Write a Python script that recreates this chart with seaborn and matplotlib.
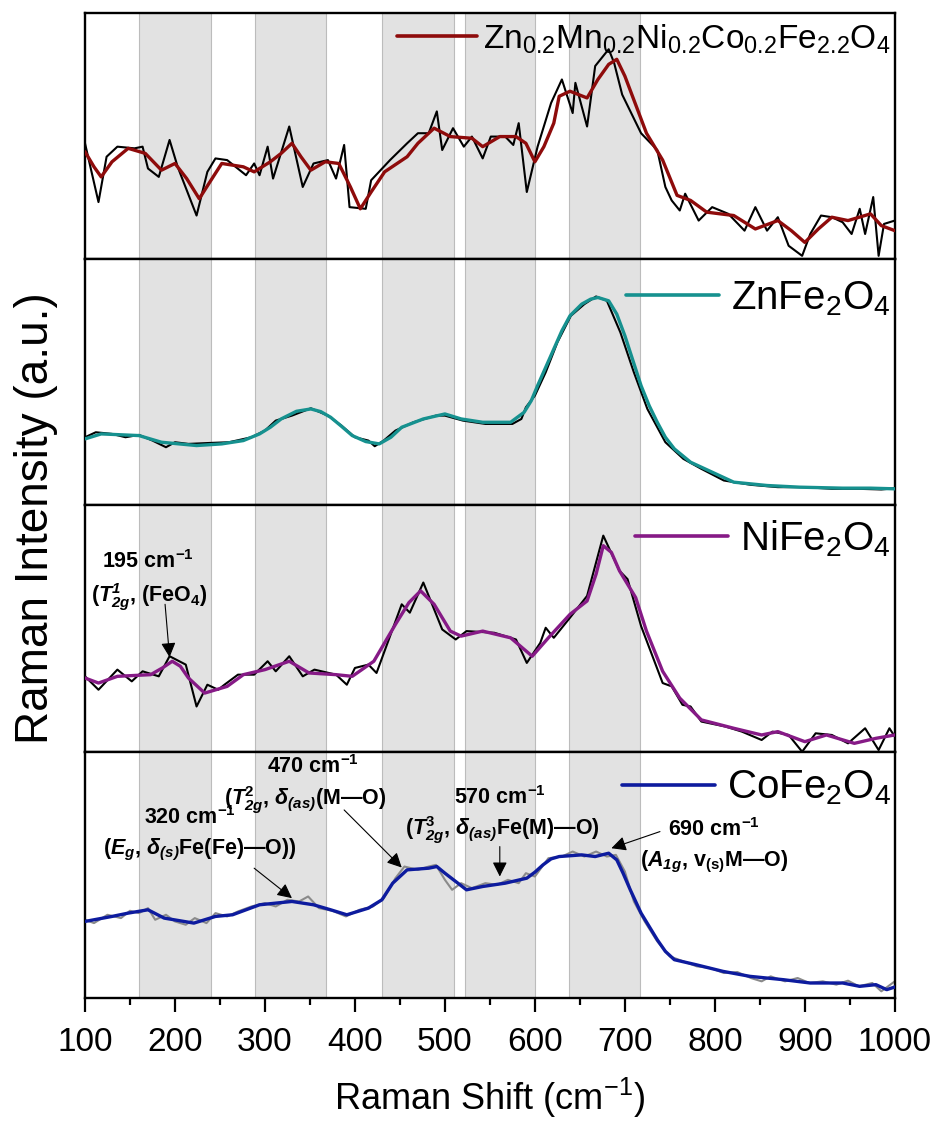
import matplotlib
matplotlib.use("Agg")
import matplotlib.pyplot as plt
import seaborn as sns
from matplotlib.lines import Line2D

# ---------------- data ----------------
# Shaded Raman-mode regions (cm^-1)
bands = [(160, 240), (289, 368), (430, 510), (522, 600), (638, 717)]

# Zn0.2Mn0.2Ni0.2Co0.2Fe2.2O4
mix_raw_x = [100, 115, 124, 136, 155, 164, 170, 182, 194, 203, 224, 236, 245, 258, 279, 288, 294, 303,
             309, 327, 342, 354, 370, 379, 388, 394, 412, 418, 439, 458, 470, 482, 491, 497, 509, 521,
             530, 542, 551, 567, 576, 582, 591, 603, 618, 630, 642, 645, 658, 667, 682, 688, 697, 718,
             736, 745, 752, 761, 767, 782, 797, 815, 833, 845, 858, 870, 882, 897, 906, 918, 930, 942,
             952, 961, 967, 976, 982, 988, 1000]
mix_raw_y = [345, 170, 305, 335, 330, 335, 270, 245, 355, 275, 130, 260, 300, 295, 250, 285, 250, 335,
             240, 395, 215, 285, 295, 240, 340, 155, 150, 235, 295, 345, 375, 375, 440, 325, 390, 335,
             365, 300, 365, 365, 340, 405, 200, 335, 465, 535, 435, 525, 395, 575, 625, 585, 490, 375,
             325, 215, 175, 145, 195, 115, 155, 135, 85, 155, 85, 125, 40, 10, 75, 130, 125, 110,
             75, 150, 75, 185, 10, 105, 115]
mix_fit_x = [100, 110, 118, 130, 148, 167, 185, 200, 213, 227, 240, 252, 276, 288, 306, 318, 330, 340,
             351, 367, 382, 395, 406, 418, 433, 458, 470, 488, 506, 530, 542, 561, 579, 590, 600, 610,
             621, 627, 639, 658, 670, 682, 691, 700, 712, 724, 742, 758, 773, 791, 821, 845, 870, 885,
             900, 915, 930, 948, 973, 985, 1000]
mix_fit_y = [320, 275, 245, 290, 330, 315, 265, 285, 240, 180, 235, 285, 275, 260, 290, 315, 345, 305,
             265, 290, 285, 215, 150, 200, 260, 305, 345, 390, 365, 360, 335, 365, 365, 345, 290, 335,
             405, 485, 500, 480, 535, 580, 595, 545, 460, 375, 295, 190, 175, 140, 130, 90, 115, 85,
             50, 90, 125, 115, 135, 100, 85]

# ZnFe2O4
zn_raw_x = [100, 112, 130, 145, 160, 175, 190, 200, 215, 240, 260, 285, 300, 312, 330, 351, 370, 385,
            400, 415, 422, 432, 445, 465, 490, 500, 520, 545, 575, 585, 590, 600, 612, 625, 640, 655,
            668, 680, 695, 710, 725, 745, 765, 785, 810, 840, 870, 900, 930, 960, 985, 1000]
zn_raw_y = [205, 220, 215, 205, 212, 195, 175, 190, 185, 188, 190, 205, 225, 255, 270, 292, 270, 240,
            205, 195, 178, 195, 225, 250, 270, 270, 255, 245, 245, 260, 295, 330, 400, 490, 570, 605,
            628, 615, 520, 400, 290, 190, 140, 110, 75, 62, 55, 55, 50, 50, 48, 52]
zn_fit_x = [100, 118, 160, 185, 224, 252, 276, 294, 306, 318, 335, 351, 362, 373, 385, 397, 412, 427,
            440, 452, 476, 500, 518, 542, 573, 588, 596, 603, 612, 621, 630, 639, 652, 662, 670, 682,
            691, 700, 709, 718, 727, 736, 745, 755, 773, 797, 821, 858, 894, 942, 973, 1000]
zn_fit_y = [200, 215, 210, 190, 180, 185, 195, 215, 235, 260, 283, 290, 282, 265, 238, 210, 192, 185,
            205, 235, 260, 275, 260, 250, 250, 280, 315, 360, 415, 470, 525, 570, 605, 620, 625, 615,
            575, 510, 435, 360, 300, 250, 205, 170, 130, 100, 70, 60, 55, 52, 52, 50]

# NiFe2O4
ni_raw_x = [100, 115, 136, 152, 164, 182, 194, 212, 224, 236, 248, 255, 270, 288, 303, 312, 327, 342,
            355, 379, 391, 400, 415, 424, 452, 461, 476, 497, 512, 524, 555, 579, 591, 606, 612, 621,
            639, 658, 676, 694, 703, 718, 742, 752, 764, 773, 785, 812, 830, 852, 864, 882, 897, 912,
            930, 948, 967, 982, 994, 1000]
ni_raw_y = [225, 185, 245, 210, 240, 225, 285, 260, 135, 200, 185, 200, 230, 230, 270, 240, 285, 225,
            245, 230, 200, 250, 260, 235, 440, 415, 505, 365, 335, 360, 355, 335, 265, 325, 370, 340,
            400, 465, 645, 540, 515, 375, 205, 195, 140, 135, 90, 75, 60, 35, 60, 50, 0, 55,
            50, 25, 70, 5, 70, 45]
ni_fit_x = [100, 115, 136, 173, 186, 197, 206, 215, 233, 258, 276, 300, 327, 349, 379, 397, 421, 433,
            445, 460, 473, 488, 506, 518, 542, 573, 597, 615, 639, 658, 668, 676, 685, 694, 712, 724,
            742, 761, 785, 821, 852, 870, 900, 924, 955, 979, 1000]
ni_fit_y = [220, 205, 225, 230, 250, 270, 255, 220, 175, 195, 230, 245, 270, 235, 230, 225, 270, 325,
            380, 445, 480, 440, 360, 345, 360, 340, 285, 340, 410, 450, 530, 615, 595, 540, 460, 360,
            240, 160, 95, 70, 50, 60, 30, 50, 25, 40, 50]

# CoFe2O4
co_raw_x = [100, 110, 125, 140, 150, 160, 170, 178, 190, 200, 212, 222, 235, 245, 258, 270, 285, 300,
            312, 325, 338, 348, 360, 375, 390, 405, 420, 432, 445, 455, 470, 482, 490, 500, 508, 518,
            530, 545, 558, 570, 582, 590, 600, 615, 630, 642, 655, 668, 680, 690, 700, 710, 722, 736,
            750, 765, 780, 795, 810, 825, 840, 852, 862, 878, 892, 905, 920, 935, 948, 960, 975, 985,
            995, 1000]
co_raw_y = [235, 225, 250, 240, 262, 255, 270, 235, 250, 230, 220, 240, 225, 255, 245, 260, 275, 285,
            275, 295, 290, 305, 270, 262, 245, 265, 275, 300, 360, 395, 385, 395, 400, 355, 325, 345,
            330, 345, 340, 355, 345, 375, 365, 420, 425, 440, 425, 440, 425, 430, 380, 290, 230, 170,
            125, 110, 95, 90, 75, 78, 60, 50, 65, 50, 60, 45, 50, 40, 52, 35, 45, 20,
            40, 50]
co_fit_x = [100, 130, 148, 170, 188, 221, 245, 264, 294, 330, 354, 373, 391, 415, 430, 442, 458, 482,
            491, 500, 512, 524, 542, 567, 591, 600, 609, 618, 627, 652, 667, 682, 691, 698, 706, 718,
            727, 736, 745, 755, 779, 809, 839, 876, 906, 942, 961, 979, 991, 1000]
co_fit_y = [230, 245, 255, 265, 240, 225, 245, 250, 280, 290, 280, 265, 250, 270, 295, 345, 385, 390,
            395, 375, 350, 325, 335, 345, 360, 378, 400, 418, 425, 430, 425, 435, 415, 375, 325, 255,
            215, 175, 140, 115, 100, 80, 65, 55, 45, 45, 35, 40, 25, 33]

labels = [r"Zn$_{0.2}$Mn$_{0.2}$Ni$_{0.2}$Co$_{0.2}$Fe$_{2.2}$O$_{4}$",
          r"ZnFe$_{2}$O$_{4}$", r"NiFe$_{2}$O$_{4}$", r"CoFe$_{2}$O$_{4}$"]
xticks = [100, 200, 300, 400, 500, 600, 700, 800, 900, 1000]

# ---------------- style ----------------
sns.set_theme(style="white")
FAM = "Liberation Sans"
plt.rcParams["font.family"] = [FAM, "DejaVu Sans"]
plt.rcParams["text.color"] = "black"
plt.rcParams["axes.labelcolor"] = "black"
plt.rcParams["xtick.color"] = "black"
plt.rcParams["mathtext.fontset"] = "custom"
plt.rcParams["mathtext.rm"] = FAM
plt.rcParams["mathtext.it"] = FAM + ":italic"
plt.rcParams["mathtext.bf"] = FAM + ":bold"
plt.rcParams["mathtext.bfit"] = FAM + ":bold:italic"
plt.rcParams["mathtext.sf"] = FAM

fig = plt.figure(figsize=(9.36, 11.26), dpi=100)
gs = fig.add_gridspec(4, 1, left=0.0908, right=0.956, bottom=0.1137, top=0.9885, hspace=0)
axes = [fig.add_subplot(gs[i]) for i in range(4)]

series = [
    (mix_raw_x, mix_raw_y, mix_fit_x, mix_fit_y, "#8e0b0b", "black", 733, 24, 0.995, 0.895, 2.4, 0.2),
    (zn_raw_x, zn_raw_y, zn_fit_x, zn_fit_y, "#16918f", "black", 740, 29, 0.995, 0.84, 2.3, 0.3),
    (ni_raw_x, ni_raw_y, ni_fit_x, ni_fit_y, "#861a86", "black", 735, 29, 0.995, 0.865, 2.3, 0.3),
    (co_raw_x, co_raw_y, co_fit_x, co_fit_y, "#0d1b9e", "#8a8a8a", 740, 29, 0.995, 0.852, 2.3, 0.3),
]

for ax, lab, (rx, ry, fx, fy, col, rcol, ytop, fs, lx, ly, hl, htp) in zip(axes, labels, series):
    for lo, hi in bands:
        ax.axvspan(lo, hi, facecolor="#e2e2e2", edgecolor="#bcbcbc", lw=0.8, zorder=0)
    sns.lineplot(x=rx, y=ry, ax=ax, color=rcol, lw=1.5, sort=False, zorder=2)
    sns.lineplot(x=fx, y=fy, ax=ax, color=col, lw=2.4, sort=False, zorder=3)
    ax.set_xlim(100, 1000)
    ax.set_ylim(0, ytop)
    ax.set_yticks([])
    ax.set_ylabel("")
    for s in ax.spines.values():
        s.set_linewidth(1.7)
        s.set_color("black")
    h = Line2D([], [], color=col, lw=2.6)
    ax.legend([h], [lab], loc="center right", bbox_to_anchor=(lx, ly), frameon=False,
              fontsize=fs, handlelength=hl, handletextpad=htp, borderpad=0, borderaxespad=0)

for ax in axes[:3]:
    ax.set_xticks([])

bot = axes[3]
bot.set_xticks(xticks)
bot.set_xticks(range(150, 1000, 100), minor=True)
bot.tick_params(axis="x", which="major", direction="out", length=10, width=1.6, labelsize=24,
                bottom=True, pad=11, colors="black")
bot.tick_params(axis="x", which="minor", direction="out", length=5, width=1.6, bottom=True)
bot.set_xlabel(r"Raman Shift (cm$^{-1}$)", fontsize=26, labelpad=13)

fig.text(0.038, 0.54, "Raman Intensity (a.u.)", rotation=90, ha="center", va="center", fontsize=33)

# ---------------- annotations ----------------
akw = dict(fontsize=15.5, fontweight="bold", ha="center", va="center", zorder=5)
arrow = dict(arrowstyle="-|>", color="black", lw=0.8, mutation_scale=22, shrinkA=0, shrinkB=0)

ni_ax = axes[2]
ni_ax.text(170, 569, r"195 cm$^{\mathbf{-1}}$", **akw)
ni_ax.text(172, 461, r"($\mathbfit{T}^{\mathbfit{1}}_{\mathbfit{2g}}$, (FeO$_{\mathbf{4}}$)", **akw)
ni_ax.annotate("", xy=(194, 282), xytext=(189, 440), arrowprops=arrow)

co_ax = axes[3]
co_ax.text(353, 694, r"470 cm$^{\mathbf{-1}}$", **akw)
co_ax.text(217, 541, r"320 cm$^{\mathbf{-1}}$", **akw)
co_ax.text(345, 595, r"($\mathbfit{T}^{\mathbf{2}}_{\mathbfit{2g}}$, $\mathbfit{\delta}_{\mathbfit{(as)}}$(M—O)", **akw)
co_ax.text(228, 445, r"($\mathbfit{E}_{\mathbfit{g}}$, $\mathbfit{\delta}_{\mathbfit{(s)}}$Fe(Fe)—O))", **akw)
co_ax.text(561, 601, r"570 cm$^{\mathbf{-1}}$", **akw)
co_ax.text(564, 505, r"($\mathbfit{T}^{\mathbf{3}}_{\mathbfit{2g}}$, $\mathbfit{\delta}_{\mathbfit{(as)}}$Fe(M)—O)", **akw)
co_ax.text(799, 505, r"690 cm$^{\mathbf{-1}}$", **akw)
co_ax.text(799, 409, r"($\mathbfit{A}_{\mathbfit{1g}}$, v$_{\mathbf{(s)}}$M—O)", **akw)

co_ax.annotate("", xy=(330, 300), xytext=(288, 390), arrowprops=arrow)
co_ax.annotate("", xy=(452, 392), xytext=(388, 565), arrowprops=arrow)
co_ax.annotate("", xy=(561, 365), xytext=(561, 455), arrowprops=arrow)
co_ax.annotate("", xy=(685, 450), xytext=(739, 500), arrowprops=arrow)

fig.savefig("out.png", dpi=100)
